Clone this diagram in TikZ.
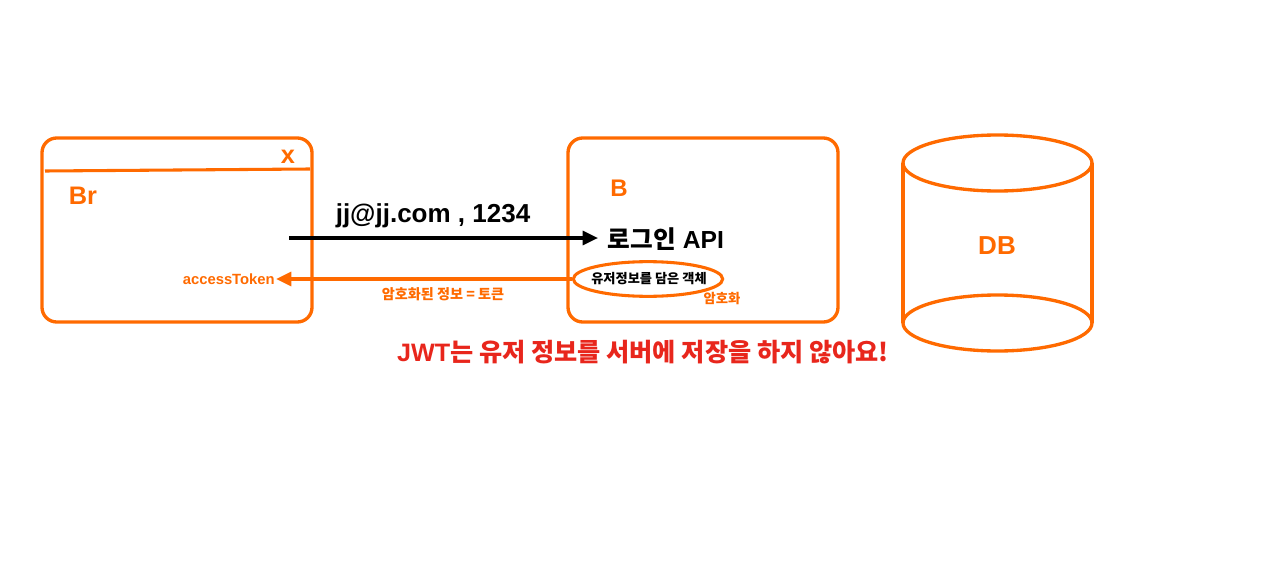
\documentclass[tikz,border=0pt]{standalone}
\usepackage{fontspec}
\setmainfont{Liberation Sans}
\newfontfamily\cjk{Noto Sans CJK KR}
\usetikzlibrary{arrows.meta,shapes.geometric}
\definecolor{org}{HTML}{FF6A00}
\definecolor{redt}{HTML}{E8261C}
\tikzset{
  box/.style={draw=org, line width=2.5pt, rounded corners=11pt, minimum width=202.5pt, minimum height=138pt, inner sep=0pt},
  olab/.style={text=org, font=\bfseries\fontsize{19}{21}\selectfont, inner sep=0pt},
  arr/.style={line width=2.4pt, -{Triangle[length=11.5pt,width=10.5pt]}},
}
\begin{document}
\begin{tikzpicture}[x=0.75pt,y=-0.75pt]
\useasboundingbox (0,0) rectangle (1280,574);
% browser
\node[box] (br) at (177,230) {};
\draw[org, line width=2.3pt] (45,171) coordinate (d1) -- (310,169) coordinate (d2);
\node[olab] (x) at (288,157) {x};
\node[olab] (brl) at (83,196) {Br};
% server
\node[box] (sv) at (703,230) {};
\node[olab, font=\bfseries\fontsize{18}{20}\selectfont] (bl) at (619,188) {B};
\node[inner sep=0pt, font=\bfseries\fontsize{18.5}{20}\selectfont] (api) at (666,239) {{\cjk 로그인} API};
\node[draw=org, line width=2.3pt, ellipse, minimum width=112pt, minimum height=26pt, inner sep=0pt] (obj) at (648,279) {};
\node[inner sep=0pt, font=\cjk\bfseries\fontsize{9.9}{11}\selectfont] (objl) at (649,279) {유저정보를 담은 객체};
\node[inner sep=0pt, text=org, font=\cjk\bfseries\fontsize{10}{11}\selectfont] (enc) at (722,299) {암호화};
% arrows
\coordinate (s1) at (289,238);
\coordinate (e1) at (598,238);
\draw[arr, black] (s1) -- (e1);
\node[inner sep=0pt, font=\bfseries\fontsize{19.5}{21}\selectfont] (cred) at (433,216) {jj@jj.com , 1234};
\coordinate (s2) at (572,279);
\coordinate (e2) at (276,279);
\draw[arr, org] (s2) -- (e2);
\node[inner sep=0pt, anchor=east, text=org, font=\bfseries\fontsize{11.1}{12}\selectfont] (tok) at (275,279) {accessToken};
\node[inner sep=0pt, text=org, font=\cjk\bfseries\fontsize{10.6}{12}\selectfont] (tokl) at (443,294) {암호화된 정보 = 토큰};
% DB cylinder
\draw[org, line width=2.5pt] (997.5,163) ellipse [x radius=94.5, y radius=28];
\draw[org, line width=2.5pt] (997.5,323) ellipse [x radius=94.5, y radius=28];
\draw[org, line width=2.5pt] (903,163) -- (903,323);
\draw[org, line width=2.5pt] (1092,163) -- (1092,323);
\node[olab, font=\bfseries\fontsize{19.5}{21}\selectfont] (db) at (997,246) {DB};
% red note
\node[inner sep=0pt, text=redt, font=\bfseries\fontsize{18.9}{21}\selectfont] (note) at (643,352) {JWT{\cjk\bfseries 는 유저 정보를 서버에 저장을 하지 않아요!}};
\end{tikzpicture}
\end{document}
